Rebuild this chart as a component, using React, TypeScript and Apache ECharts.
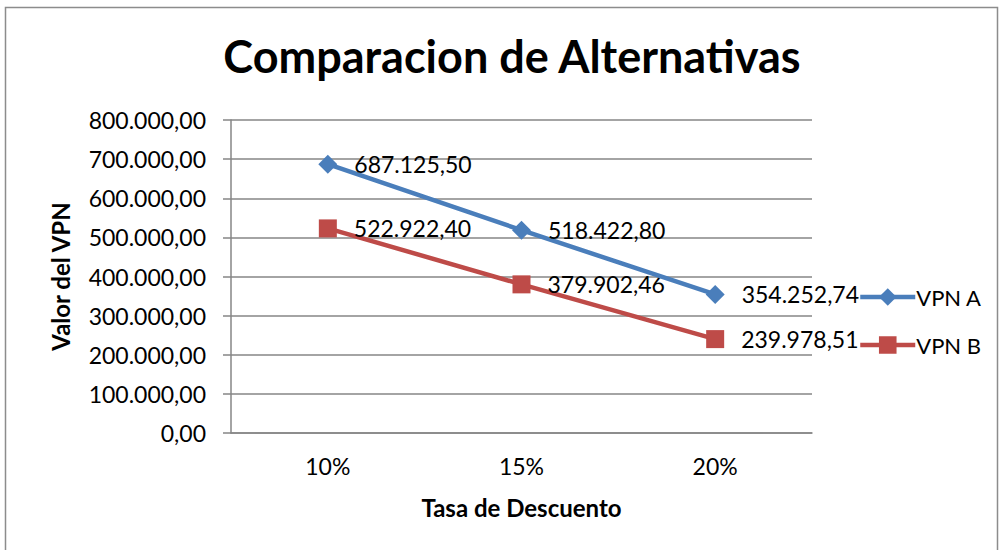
import React, { useEffect, useRef } from "react";
import * as echarts from "echarts";

const categories = ["10%", "15%", "20%"];
const vpnA = [687125.5, 518422.8, 354252.74];
const vpnB = [522922.4, 379902.46, 239978.51];
const seriesNames = ["VPN A", "VPN B"];
const titleText = "Comparacion de Alternativas";
const xTitle = "Tasa de Descuento";
const yTitle = "Valor del VPN";

const FONT = "Lato";

function fmt(v: number): string {
  const fixed = Math.abs(v).toFixed(2);
  const [intPart, dec] = fixed.split(".");
  const withDots = intPart.replace(/\B(?=(\d{3})+(?!\d))/g, ".");
  return (v < 0 ? "-" : "") + withDots + "," + dec;
}

export default function App() {
  const ref = useRef<HTMLDivElement>(null);
  useEffect(() => {
    if (!ref.current) return;
    const chart = echarts.init(ref.current, undefined, { renderer: "svg" });
    const labelStyle = {
      show: true,
      position: "right" as const,
      distance: 17,
      fontFamily: FONT,
      fontSize: 23,
      color: "#000",
      formatter: (p: any) => fmt(p.value),
    };
    chart.setOption({
      animation: false,
      backgroundColor: "#fff",
      graphic: [
        {
          type: "rect",
          shape: { x: 5.5, y: 7.5, width: 992, height: 560 },
          style: { fill: "none", stroke: "#8c8c8c", lineWidth: 1.5 },
          z: -1,
        },
      ],
      title: {
        text: titleText,
        left: 507,
        textAlign: "center",
        top: 28,
        textStyle: { fontFamily: FONT, fontSize: 45, fontWeight: "bold", color: "#000" },
      },
      legend: {
        orient: "vertical",
        left: 853,
        top: 281,
        itemWidth: 55,
        itemHeight: 22,
        itemGap: 26,
        data: seriesNames,
        lineStyle: { width: 4.5 },
        textStyle: { fontFamily: FONT, fontSize: 22, color: "#000", padding: [0, 0, 0, -4] },
      },
      grid: { left: 231, right: 187, top: 120, bottom: 117, containLabel: false },
      xAxis: {
        type: "category",
        data: categories,
        boundaryGap: true,
        name: xTitle,
        nameLocation: "middle",
        nameGap: 62,
        nameTextStyle: { fontFamily: FONT, fontSize: 24, fontWeight: "bold", color: "#000" },
        axisLine: { lineStyle: { color: "#868686", width: 1.5 } },
        axisTick: { show: false },
        axisLabel: { fontFamily: FONT, fontSize: 23, color: "#000", margin: 21 },
      },
      yAxis: {
        type: "value",
        min: 0,
        max: 800000,
        interval: 100000,
        name: yTitle,
        nameLocation: "middle",
        nameGap: 159,
        nameTextStyle: { fontFamily: FONT, fontSize: 24, fontWeight: "bold", color: "#000" },
        axisLine: { show: true, lineStyle: { color: "#868686", width: 1.5 } },
        axisTick: { show: true, length: 8, lineStyle: { color: "#868686", width: 1.5 } },
        splitLine: { lineStyle: { color: "#868686", width: 1.5 } },
        axisLabel: {
          fontFamily: FONT,
          fontSize: 23,
          color: "#000",
          margin: 25,
          formatter: (v: number) => fmt(v),
        },
      },
      series: [
        {
          name: seriesNames[0],
          type: "line",
          data: vpnA,
          symbol: "diamond",
          symbolSize: 19,
          lineStyle: { color: "#4A7EBB", width: 4.5 },
          itemStyle: { color: "#4A7EBB" },
          label: labelStyle,
          z: 3,
        },
        {
          name: seriesNames[1],
          type: "line",
          data: vpnB,
          symbol: "rect",
          symbolSize: 18,
          lineStyle: { color: "#BE4B48", width: 4.5 },
          itemStyle: { color: "#BE4B48" },
          label: labelStyle,
          z: 2,
        },
      ],
    });
    return () => chart.dispose();
  }, []);
  return (
    <div
      ref={ref}
      style={{ position: "absolute", left: 0, top: 0, width: 999, height: 550 }}
    />
  );
}
